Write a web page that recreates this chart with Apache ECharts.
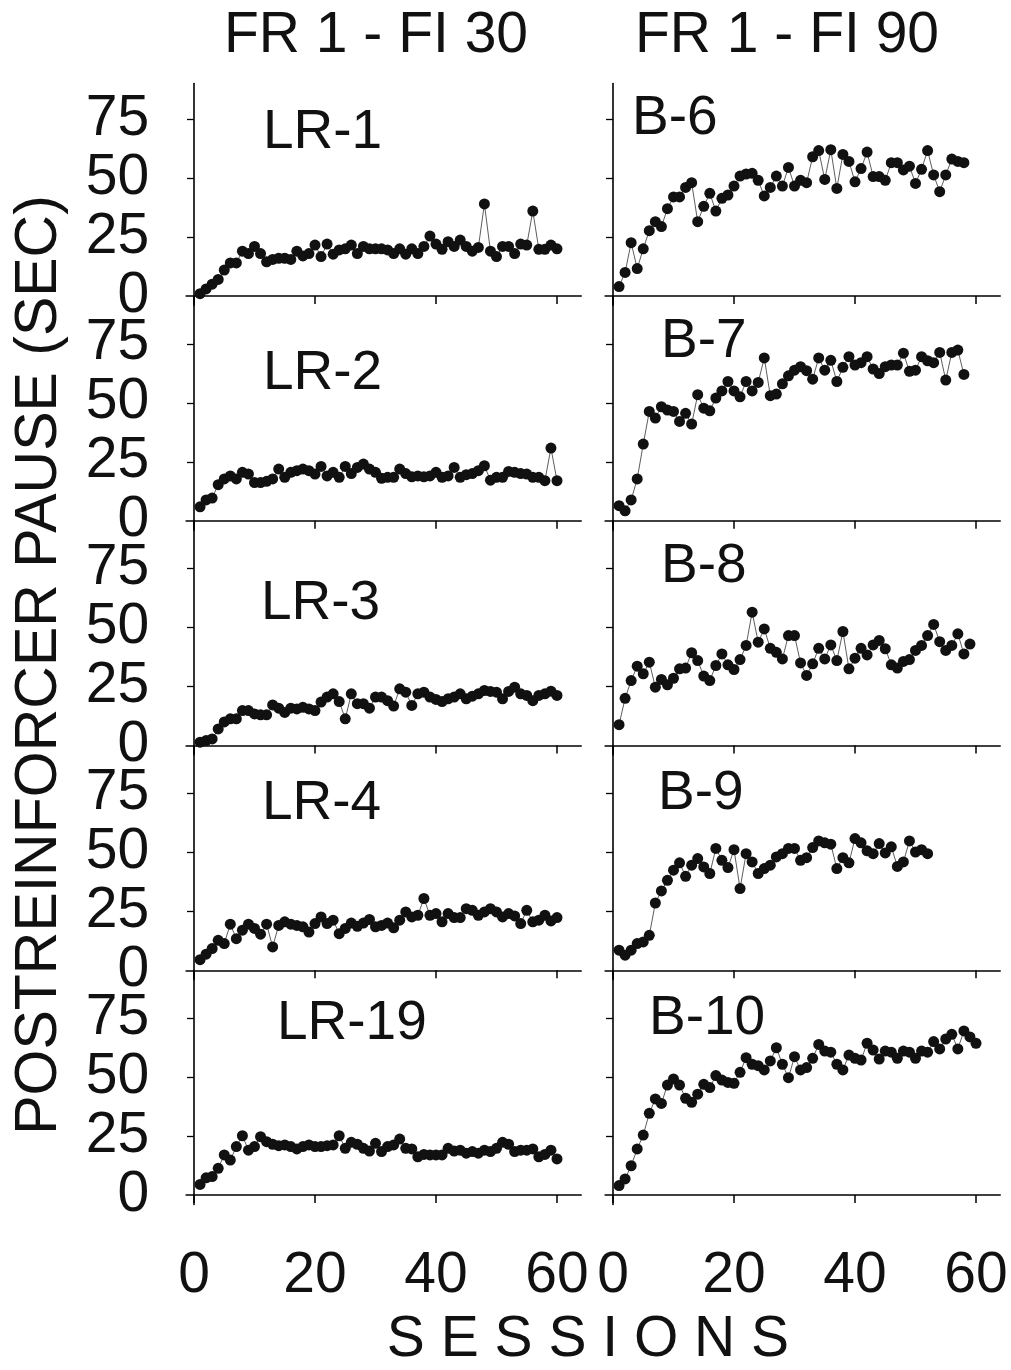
<!DOCTYPE html>
<html>
<head>
<meta charset="utf-8">
<script src="https://cdn.jsdelivr.net/npm/echarts@6/dist/echarts.min.js"></script>
<style>
  html, body { margin: 0; padding: 0; background: #fff; }
  #chart { width: 1011px; height: 1370px; }
</style>
</head>
<body>
<div id="chart"></div>
<script>
// ---- data ----
const sessionTicks = [0, 20, 40, 60];
const pauseTicks = [0, 25, 50, 75];
const pauseMinorTicks = [25, 50, 75];
const columnTitles = ['FR 1 - FI 30', 'FR 1 - FI 90'];
const xAxisTitle = 'S E S S I O N S';
const yAxisTitle = 'POSTREINFORCER PAUSE (SEC)';
const namesLeft = ['LR-1', 'LR-2', 'LR-3', 'LR-4', 'LR-19'];
const namesRight = ['B-6', 'B-7', 'B-8', 'B-9', 'B-10'];

const lr1 = [1,3,5,7,11,14,14,19,18,21,18,14.5,15.5,16,16,15.5,19,17,18,21.6,16.7,22,17.7,19.5,20,21.6,18,21,20,20,20,19.5,18,20,17.7,20,18,21,25.4,22,19.8,23,21,23.7,21,19,20.6,39,19,16.7,21,21,18,22,21.6,36,19.8,19.8,21.6,20];
const lr2 = [5.9,8.8,9.6,15.3,17.7,19,17.7,20.5,19.8,16.2,16.2,16.7,17.7,21.9,18.4,20.5,21.2,21.9,21.2,19.8,23,19,20.5,18.4,23,20,22.6,24,21.9,20.5,18,18.4,18.4,21.9,20,18.6,19,18.6,19,20.5,18.4,19,22.6,18.4,19.5,20,21.2,23.3,17.2,18.4,18.4,20.9,20.5,20,19.8,18.4,18.4,17,30.8,17];
const lr3 = [1.4,2.1,2.8,7,10,11.3,11.3,14.8,14.8,13.4,13,13,17.2,15.8,14,15.8,15.5,16.2,15.5,14.8,18.4,20.5,21.9,18.6,11.3,21.9,17.7,17.7,15.8,20.5,20.5,19,16.7,24,22.6,17,21.9,22.6,20.5,19.5,18.6,19.8,20.5,21.9,19.8,20.9,21.9,23.3,22.9,22.6,19.8,22.9,24.7,21.9,21.2,19,21.2,21.9,23,21.2];
const lr4 = [4.5,6.8,9.2,12.7,11.3,19.5,13.4,17,19.5,17.7,15.3,19.5,9.9,19,20.5,19.5,19,18.4,16.2,19.8,22.6,19.8,21.2,15.5,17.7,20,18.6,20,21.5,18.4,19,20,18,21.2,24.7,22.6,23.3,30.4,23.3,24,20.5,24,22.3,22.3,26.1,25.4,23.3,24.7,26.1,24.7,22.6,24,23,19.8,25.4,20.5,21.2,23.3,20.9,22.3];
const lr19 = [4.5,7.3,7.8,11.3,17,14.8,20.5,25.1,19,20.5,24.7,22.6,21.5,20.9,21.2,20.5,19.5,20.5,21.2,20.5,20.5,20.9,21.2,25.1,19.8,22.3,21.5,19.8,18.6,21.9,18.4,20.5,21.2,23.7,19.8,19.5,16.2,17.2,17,17,17,19.8,18.6,19,17.7,18.4,17.7,19,18.4,19.8,22.3,21.5,18.4,19,19,19.5,16.2,17.2,19,15.3];
const b6 = [4,10,22.6,11.6,20,27.7,31.5,29.4,37,42,42,46,48,31.5,38,43.5,36,41.4,42.8,46.6,50.8,51.7,52,49,42.4,46,50.8,46.6,54.5,46.6,49,48,59,61.6,49.4,62,45.6,60,57,48.4,54,61,50.6,50.6,49,56.5,56.5,53.4,55,47.7,53.7,61.6,51.3,44.2,51.3,58,57,56.5];
const b7 = [6.4,4.2,8.8,17.7,32.5,46.3,43.5,48.3,46.9,46.3,42.1,45.5,41,53.4,47.7,46.6,52,55,59,55,52.5,59,55,58.6,69,53,53.7,58,61.4,63.8,65.3,63.6,60,69,63.8,68,59,65,69.5,66,67,69.5,64.3,62.4,65.3,66,66,71,63.3,63.8,69.5,67.8,67,71.3,59.6,71.3,72.3,62];
const b8 = [8.8,20,27.5,33.6,30.4,35.3,24.7,28,25.7,28.5,32.5,32.8,39.3,36,29.4,27.5,33.9,38.8,34.2,32.2,36.4,42.4,56.5,43.8,49.4,41.2,39.5,36.7,46.6,46.6,35,29.7,34.6,41.2,36.7,42.6,36,48.3,32.5,37,41.2,38.4,42.6,44.5,41,34.2,32.8,35.6,36.4,40.3,42.4,46.6,51.3,44,40.3,42.4,47.3,38.8,43];
const b9 = [8.5,6.4,8.5,11.3,12,14.8,28.5,33.6,38.1,42.4,45.5,39.8,44.5,47.3,43.8,41,51.6,46.6,43.5,51.1,34.6,49.4,45.9,41,43.1,44.5,48,49.4,51.6,51.6,46.6,47.7,52,54.8,54,53.4,43.1,47.7,45.5,55.8,54,50.6,49.4,53.7,49.7,52.3,44,45.9,54.8,50.1,51.1,49.4];
const b10 = [4,6.8,12.4,19.5,25.4,34.6,40.7,38.8,46.6,49.2,46.6,41,39.3,42.7,46.9,45.5,50.6,48.7,47.7,47.3,52,58.2,55.4,54.8,53,56.8,62.4,55.4,49.7,58.6,53,54,57.9,63.8,61,60.5,55.4,53,59.3,57.9,57.2,64.3,61.4,57.6,61,60.5,57.9,61,60.5,57.9,61,60.5,65,61.9,66.1,68.1,61.9,69.5,67,64.3];

const seriesLeft = [lr1, lr2, lr3, lr4, lr19];
const seriesRight = [b6, b7, b8, b9, b10];

// ---- layout ----
const FONT = "'Liberation Sans', Arial, Helvetica, sans-serif";
const PX_X = 6.05, PX_Y = 2.36;
const X_MIN = -1.3, X_MAX = 64, Y_MIN = -4;
const ZERO_X = [194, 613];
const BASE_Y = [296, 520.75, 745.5, 970.25, 1195];
const Y_MAX = [90, 95, 95, 95, 95];
const LABEL_POS = [
  [[263,134],[263,375],[261,605],[262,805],[277,1025]],
  [[632,120],[661,343],[661,568],[658,795],[649,1020]]
];

const grids = [], xAxes = [], yAxes = [], series = [], graphics = [];
const columns = [[namesLeft, seriesLeft], [namesRight, seriesRight]];
let k = 0;
columns.forEach(([names, data], c) => {
  data.forEach((values, r) => {
    grids.push({
      left: ZERO_X[c] + X_MIN * PX_X,
      width: (X_MAX - X_MIN) * PX_X,
      top: BASE_Y[r] - Y_MAX[r] * PX_Y,
      height: (Y_MAX[r] - Y_MIN) * PX_Y,
      outerBoundsMode: 'none',
      containLabel: false
    });
    xAxes.push({
      type: 'value', gridIndex: k, min: X_MIN, max: X_MAX,
      axisLine: { onZero: true, lineStyle: { color: '#000', width: 1.6 } },
      axisTick: { show: true, customValues: sessionTicks, length: 8, lineStyle: { color: '#000', width: 1.5 } },
      axisLabel: { show: r === 4, customValues: sessionTicks, color: '#111', fontSize: 57, fontFamily: FONT, margin: 43 },
      splitLine: { show: false }
    });
    yAxes.push({
      type: 'value', gridIndex: k, min: Y_MIN, max: Y_MAX[r],
      axisLine: { onZero: true, lineStyle: { color: '#000', width: 1.6 } },
      axisTick: { show: true, customValues: pauseMinorTicks, length: 7, lineStyle: { color: '#000', width: 1.3 } },
      axisLabel: { show: c === 0, customValues: pauseTicks, color: '#111', fontSize: 57, fontFamily: FONT, margin: 37, padding: [12, 0, 0, 0] },
      splitLine: { show: false }
    });
    series.push({
      type: 'line', name: names[r], xAxisIndex: k, yAxisIndex: k,
      data: values.map((v, i) => [i + 1, v]),
      symbol: 'circle', symbolSize: 11, showSymbol: true,
      itemStyle: { color: '#111' },
      lineStyle: { color: '#333', width: 0.8 },
      silent: true, animation: false, z: 3
    });
    graphics.push({
      type: 'text', left: LABEL_POS[c][r][0], top: LABEL_POS[c][r][1] - 29,
      style: { text: names[r], fill: '#111', font: '55px ' + FONT }
    });
    k++;
  });
});

graphics.push(
  { type: 'text', x: 376, y: 36, style: { text: columnTitles[0], fill: '#111', font: '57px ' + FONT, align: 'center', verticalAlign: 'middle' } },
  { type: 'text', x: 787, y: 36, style: { text: columnTitles[1], fill: '#111', font: '57px ' + FONT, align: 'center', verticalAlign: 'middle' } },
  { type: 'text', x: 588, y: 1340, style: { text: xAxisTitle, fill: '#111', font: '57px ' + FONT, align: 'center', verticalAlign: 'middle' } },
  { type: 'text', x: 40, y: 665, rotation: Math.PI / 2, style: { text: yAxisTitle, fill: '#111', font: '59px ' + FONT, align: 'center', verticalAlign: 'middle' } }
);

const chart = echarts.init(document.getElementById('chart'), null, { renderer: 'canvas' });
chart.setOption({
  backgroundColor: '#fff',
  animation: false,
  grid: grids,
  xAxis: xAxes,
  yAxis: yAxes,
  series: series,
  graphic: graphics
});
</script>
</body>
</html>
